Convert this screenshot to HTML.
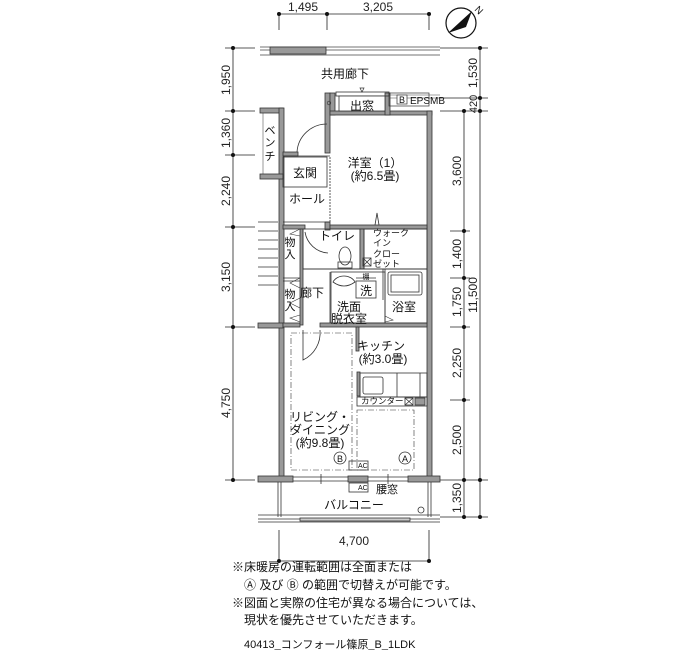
<!DOCTYPE html>
<html><head><meta charset="utf-8"><style>
html,body{margin:0;padding:0;background:#fff;}
svg{display:block;font-family:"Liberation Sans","Noto Sans CJK JP",sans-serif;}
.t{font-size:12px;fill:#111;}
.d{font-size:12px;fill:#222;}
.s{font-size:9px;fill:#111;}
</style></head><body>
<svg width="700" height="650" viewBox="0 0 700 650" xmlns="http://www.w3.org/2000/svg">
<g stroke="#222" stroke-width="0.8" fill="none">
 <!-- top dimension -->
 <line x1="279" y1="14" x2="429" y2="14"/>
 <line x1="279" y1="14" x2="279" y2="30"/><line x1="327" y1="14" x2="327" y2="30"/><line x1="429" y1="14" x2="429" y2="30"/>
 <!-- left dims -->
 <line x1="233" y1="48" x2="233" y2="480"/>
 <line x1="225" y1="48" x2="255" y2="48"/><line x1="225" y1="111" x2="255" y2="111"/><line x1="225" y1="155" x2="255" y2="155"/>
 <line x1="225" y1="227" x2="255" y2="227"/><line x1="225" y1="327" x2="255" y2="327"/><line x1="225" y1="480" x2="255" y2="480"/>
 <!-- right dims -->
 <line x1="464" y1="111" x2="464" y2="517"/>
 <line x1="480" y1="48" x2="480" y2="517"/>
 <line x1="440" y1="48" x2="488" y2="48"/><line x1="440" y1="98" x2="488" y2="98"/>
 <line x1="440" y1="111" x2="488" y2="111"/><line x1="450" y1="231" x2="470" y2="231"/><line x1="450" y1="278" x2="470" y2="278"/>
 <line x1="450" y1="327" x2="470" y2="327"/><line x1="450" y1="400" x2="470" y2="400"/>
 <line x1="440" y1="480" x2="488" y2="480"/><line x1="440" y1="517" x2="488" y2="517"/>
 <!-- bottom dim -->
 <line x1="279" y1="561" x2="429" y2="561"/>
 <line x1="279" y1="530" x2="279" y2="561"/><line x1="429" y1="530" x2="429" y2="561"/>
</g>
<g fill="#111">
 <circle cx="279" cy="14" r="2"/><circle cx="327" cy="14" r="2"/><circle cx="429" cy="14" r="2"/>
 <circle cx="233" cy="48" r="2"/><circle cx="233" cy="111" r="2"/><circle cx="233" cy="155" r="2"/><circle cx="233" cy="227" r="2"/><circle cx="233" cy="327" r="2"/><circle cx="233" cy="480" r="2"/>
 <circle cx="464" cy="111" r="2"/><circle cx="464" cy="231" r="2"/><circle cx="464" cy="278" r="2"/><circle cx="464" cy="327" r="2"/><circle cx="464" cy="400" r="2"/><circle cx="464" cy="480" r="2"/><circle cx="464" cy="517" r="2"/>
 <circle cx="480" cy="48" r="2"/><circle cx="480" cy="98" r="2"/><circle cx="480" cy="111" r="2"/><circle cx="480" cy="480" r="2"/><circle cx="480" cy="517" r="2"/>
 <circle cx="279" cy="561" r="2"/><circle cx="429" cy="561" r="2"/>
</g>
<text class="d" x="303" y="11" text-anchor="middle">1,495</text>
<text class="d" x="378" y="11" text-anchor="middle">3,205</text>
<text class="d" x="354" y="545" text-anchor="middle">4,700</text>
<g class="d" text-anchor="middle">
 <text transform="translate(230,80) rotate(-90)">1,950</text>
 <text transform="translate(230,133) rotate(-90)">1,360</text>
 <text transform="translate(230,191) rotate(-90)">2,240</text>
 <text transform="translate(230,277) rotate(-90)">3,150</text>
 <text transform="translate(230,403) rotate(-90)">4,750</text>
 <text transform="translate(461,171) rotate(-90)">3,600</text>
 <text transform="translate(461,254) rotate(-90)">1,400</text>
 <text transform="translate(461,302) rotate(-90)">1,750</text>
 <text transform="translate(461,363) rotate(-90)">2,250</text>
 <text transform="translate(461,440) rotate(-90)">2,500</text>
 <text transform="translate(461,498) rotate(-90)">1,350</text>
 <text transform="translate(477,73) rotate(-90)">1,530</text>
 <text transform="translate(477,104) rotate(-90)" style="font-size:11px">420</text>
 <text transform="translate(477,295) rotate(-90)">11,500</text>
</g>
<!-- compass -->
<circle cx="461" cy="23" r="15" fill="none" stroke="#111" stroke-width="1.2"/>
<polygon points="472,11 448,33 466,27" fill="#111"/>
<text x="474" y="10" class="s" style="font-size:10px" transform="rotate(45 474 10)">N</text>

<!-- top corridor rail -->
<g stroke="#444" stroke-width="0.8">
 <line x1="260" y1="47" x2="440" y2="47"/><line x1="260" y1="50" x2="440" y2="50"/><line x1="260" y1="55" x2="440" y2="55"/>
</g>
<rect x="270" y="47" width="56" height="7" fill="#999" stroke="#333" stroke-width="0.8"/>
<text class="t" x="345" y="78" text-anchor="middle">共用廊下</text>

<!-- walls -->
<g fill="#999" stroke="#333" stroke-width="0.8">
 <rect x="260" y="108" width="23" height="5"/>
 <rect x="279" y="108" width="5" height="372"/>
 <rect x="260" y="174" width="23" height="5"/>
 <rect x="283" y="152" width="15" height="4"/>
 <rect x="325" y="93" width="5" height="60"/>
 <rect x="330" y="93" width="5" height="22"/>
 <rect x="330" y="111" width="102" height="4"/>
 <rect x="385" y="93" width="5" height="22"/>
 <rect x="427" y="111" width="5" height="369"/>
 <rect x="325" y="222" width="5" height="8"/>
 <rect x="283" y="225" width="22" height="4"/>
 <rect x="330" y="225" width="97" height="4"/>
 <rect x="258" y="323" width="25" height="5"/>
 <rect x="283" y="323" width="17" height="4"/>
 <rect x="320" y="323" width="107" height="4"/>
 <rect x="356" y="327" width="3" height="24"/>
 <rect x="357" y="372" width="3" height="24"/>
 <rect x="258" y="476" width="35" height="6"/>
 <rect x="348" y="476" width="20" height="6"/>
 <rect x="408" y="476" width="32" height="6"/>
 <rect x="300" y="229" width="3" height="96"/>
</g>
<!-- deimado parapet -->
<rect x="336" y="92" width="53" height="4" fill="none" stroke="#333" stroke-width="0.8"/>
<rect x="339" y="96" width="46" height="15" fill="#fff" stroke="#333" stroke-width="0.8"/>
<text class="t" x="362" y="110" text-anchor="middle">出窓</text>
<polygon points="360,88 364,88 362,92" fill="none" stroke="#333" stroke-width="0.7"/>
<rect x="389" y="93" width="40" height="13" fill="none" stroke="#333" stroke-width="0.7"/>
<line x1="389" y1="95" x2="440" y2="95" stroke="#444" stroke-width="0.6"/>
<line x1="389" y1="98" x2="440" y2="98" stroke="#444" stroke-width="0.6"/>
<rect x="397" y="95" width="10" height="9" fill="#fff" stroke="#333" stroke-width="0.7"/>
<text class="s" x="402" y="103" text-anchor="middle">B</text>
<text class="s" x="410" y="104" style="font-size:10px">EPSMB</text>
<circle cx="329" cy="103" r="1.8" fill="none" stroke="#333" stroke-width="0.6"/>

<!-- thin interior lines -->
<g stroke="#333" stroke-width="0.8" fill="none">
 <line x1="283" y1="156" x2="330" y2="156"/>
 <rect x="283" y="157" width="44" height="30" fill="none"/>
 <line x1="283" y1="222" x2="330" y2="222"/>
 <path d="M297 152 A30 30 0 0 1 327 124"/>
 <line x1="297" y1="152" x2="297" y2="124" stroke-width="0"/>
 <line x1="330" y1="157" x2="330" y2="222" stroke-dasharray="2,1"/>
 <rect x="303" y="229" width="57" height="40"/>
 <rect x="360" y="229" width="4" height="40" fill="#999"/>
 <rect x="364" y="229" width="63" height="40"/>
 <rect x="363" y="258" width="8" height="8"/>
 <line x1="363" y1="258" x2="371" y2="266"/><line x1="371" y1="258" x2="363" y2="266"/>
 <line x1="303" y1="269" x2="427" y2="269"/>
 <path d="M305 232 A25 25 0 0 0 328 253"/>
 <ellipse cx="345" cy="256" rx="6" ry="9"/>
 <rect x="338" y="262" width="14" height="6"/>
 <line x1="330" y1="272" x2="330" y2="323"/>
 <rect x="331" y="272" width="54" height="51"/>
 <path d="M333 282 A12 10 0 0 1 355 282 Q344 290 333 282Z"/>
 <rect x="356" y="281" width="20" height="17"/>
 <line x1="356" y1="278" x2="376" y2="278"/>
 <rect x="385" y="269" width="42" height="54"/>
 <rect x="388" y="272" width="34" height="23" rx="2"/>
 <rect x="391" y="275" width="28" height="17"/>
 <line x1="383" y1="269" x2="383" y2="300"/>
 <path d="M379 225 L377 213 L375 225"/>
 <path d="M300 229 L290 234 L300 236 M300 278 L290 283 L300 288 M300 298 L290 303 L300 308 M300 315 L290 318 L300 322" stroke-width="0.6"/>
 <path d="M385 316 L393 320 L385 322" stroke-width="0.6"/>
 <path d="M303 330 L303 360 A30 30 0 0 0 320 330" />
 <!-- kitchen counter -->
 <rect x="360" y="373" width="67" height="24"/>
 <rect x="363" y="377" width="20" height="17" rx="2"/>
 <line x1="397" y1="373" x2="397" y2="397"/><line x1="420" y1="373" x2="420" y2="397"/>
 <rect x="357" y="397" width="70" height="9"/>
 <rect x="405" y="398" width="8" height="7"/>
 <line x1="405" y1="398" x2="413" y2="405"/><line x1="413" y1="398" x2="405" y2="405"/>
 <rect x="415" y="398" width="10" height="7" fill="#999"/>
 <!-- dashed ranges -->
 <rect x="291" y="333" width="61" height="137" stroke-dasharray="6,2,1,2" stroke-width="0.6"/>
 <rect x="357" y="410" width="57" height="60" stroke-dasharray="6,2,1,2" stroke-width="0.6"/>
 <!-- windows -->
 <line x1="293" y1="477" x2="348" y2="477"/><line x1="293" y1="481" x2="348" y2="481"/>
 <line x1="368" y1="477" x2="408" y2="477"/><line x1="368" y1="481" x2="408" y2="481"/>
 <line x1="321" y1="474" x2="321" y2="484"/><line x1="388" y1="474" x2="388" y2="484"/>
 <!-- balcony -->
 <line x1="278" y1="482" x2="278" y2="517"/><line x1="281" y1="482" x2="281" y2="517"/>
 <line x1="428" y1="482" x2="428" y2="517"/><line x1="431" y1="482" x2="431" y2="517"/>
 <line x1="258" y1="515" x2="440" y2="515"/><line x1="258" y1="519" x2="440" y2="519"/><line x1="258" y1="522" x2="440" y2="522"/>
 <rect x="300" y="518" width="110" height="3" fill="#ccc"/>
 <circle cx="421" cy="510" r="3"/>
 <rect x="349" y="461" width="19" height="9"/>
 <rect x="349" y="483" width="19" height="9"/>
 <circle cx="340" cy="458" r="6"/><circle cx="405" cy="458" r="6"/>
 <!-- side steps -->
 <line x1="258" y1="222" x2="278" y2="222"/><line x1="258" y1="231" x2="278" y2="231"/><line x1="258" y1="240" x2="278" y2="240"/>
 <line x1="258" y1="249" x2="278" y2="249"/><line x1="258" y1="258" x2="278" y2="258"/><line x1="258" y1="267" x2="278" y2="267"/>
 <line x1="258" y1="276" x2="278" y2="276"/><line x1="258" y1="285" x2="278" y2="285"/>
 <line x1="263" y1="113" x2="263" y2="174" stroke-width="0.5"/>
 <line x1="283" y1="278" x2="300" y2="278"/><line x1="283" y1="281" x2="300" y2="281"/>
</g>

<!-- labels -->
<g class="t">
 <text x="375" y="167" text-anchor="middle">洋室（1）</text>
 <text x="375" y="180" text-anchor="middle">(約6.5畳)</text>
 <text x="305" y="177" text-anchor="middle">玄関</text>
 <text x="307" y="203" text-anchor="middle">ホール</text>
 <text x="337" y="240" text-anchor="middle">トイレ</text>
 <text x="312" y="297" text-anchor="middle">廊下</text>
 <text x="349" y="311" text-anchor="middle">洗面</text>
 <text x="349" y="323" text-anchor="middle">脱衣室</text>
 <text x="366" y="295" text-anchor="middle">洗</text>
 <text x="404" y="311" text-anchor="middle">浴室</text>
 <text x="381" y="350" text-anchor="middle">キッチン</text>
 <text x="383" y="363" text-anchor="middle">(約3.0畳)</text>
 <text x="320" y="421" text-anchor="middle">リビング・</text>
 <text x="320" y="434" text-anchor="middle">ダイニング</text>
 <text x="320" y="447" text-anchor="middle">(約9.8畳)</text>
 <text x="354" y="509" text-anchor="middle">バルコニー</text>
 <text x="387" y="493" text-anchor="middle" style="font-size:11px">腰窓</text>
</g>
<g class="s">
 <text x="373" y="236">ウォーク</text>
 <text x="373" y="246">イン</text>
 <text x="373" y="257">クロー</text>
 <text x="373" y="267">ゼット</text>
 <text x="366" y="279" text-anchor="middle" style="font-size:7px">棚</text>
 <text x="361" y="404" style="font-size:8.5px">カウンター</text>
 <text x="358" y="468" style="font-size:7px">AC</text>
 <text x="358" y="490" style="font-size:7px">AC</text>
 <text x="340" y="462" text-anchor="middle" style="font-size:9px">B</text>
 <text x="405" y="462" text-anchor="middle" style="font-size:9px">A</text>
</g>
<g class="t" style="font-size:11px" text-anchor="middle">
 <text x="270" y="134">ベ</text><text x="270" y="146">ン</text><text x="270" y="160">チ</text>
 <text x="290" y="246">物</text><text x="290" y="258">入</text>
 <text x="290" y="298">物</text><text x="290" y="310">入</text>
</g>
<!-- notes -->
<g class="t" style="font-size:12px">
 <text x="232" y="571">※床暖房の運転範囲は全面または</text>
 <text x="244" y="589">Ⓐ 及び Ⓑ の範囲で切替えが可能です。</text>
 <text x="232" y="607">※図面と実際の住宅が異なる場合については、</text>
 <text x="244" y="624">現状を優先させていただきます。</text>
 <text x="244" y="648" style="font-size:11px">40413_コンフォール篠原_B_1LDK</text>
</g>
</svg>
</body></html>
